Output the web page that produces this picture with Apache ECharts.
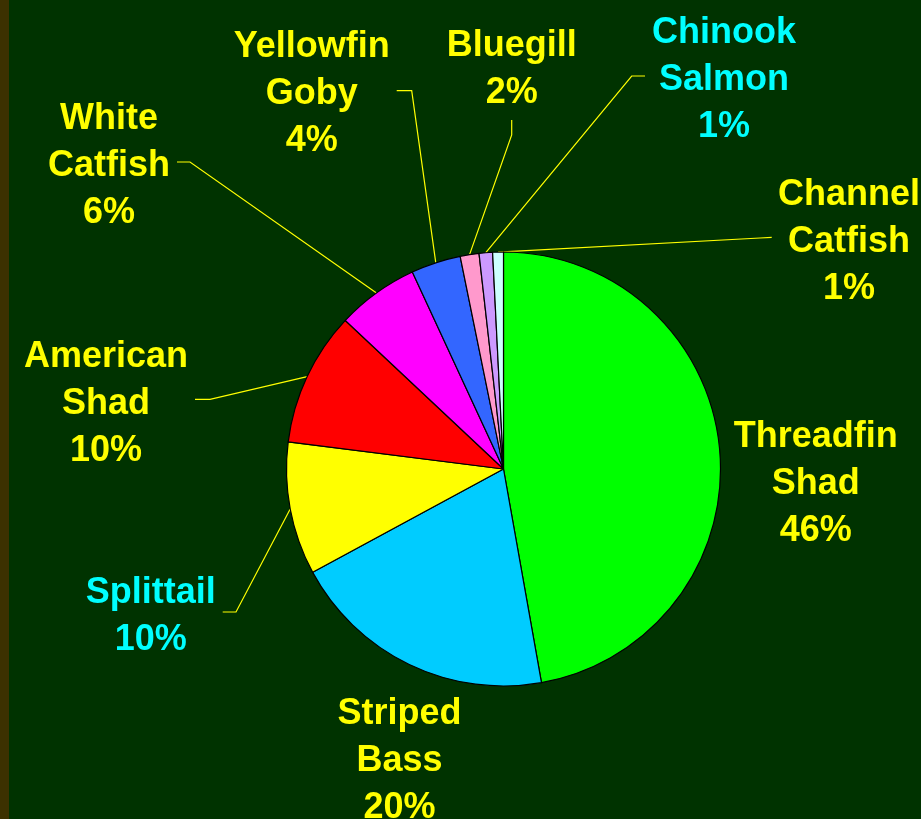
<!DOCTYPE html>
<html>
<head>
<meta charset="utf-8">
<style>
html,body{margin:0;padding:0;background:#003300;}
#chart{width:921px;height:819px;}
</style>
<script src="https://cdn.jsdelivr.net/npm/echarts@6/dist/echarts.min.js"></script>
</head>
<body>
<div id="chart"></div>
<script>
// ---- data ----
const categories = ['Threadfin\nShad', 'Striped\nBass', 'Splittail', 'American\nShad', 'White\nCatfish', 'Yellowfin\nGoby', 'Bluegill', 'Chinook\nSalmon', 'Channel\nCatfish'];
const values = [47.2, 19.9, 9.9, 10.0, 6.1, 3.7, 1.4, 1.0, 0.8];
const pctLabels = ['46%', '20%', '10%', '10%', '6%', '4%', '2%', '1%', '1%'];

// ---- styles / layout ----
const sliceColors = ['#00FF00', '#00CCFF', '#FFFF00', '#FF0000', '#FF00FF', '#3366FF', '#FF99CC', '#CC99FF', '#CCFFFF'];
const labelColors = ['#FFFF00', '#FFFF00', '#00FFFF', '#FFFF00', '#FFFF00', '#FFFF00', '#FFFF00', '#00FFFF', '#FFFF00'];
const labelShiftY = 3.5;
const labelPos = [
  {x: 815.8, y: 480.5},
  {x: 399.5, y: 758},
  {x: 150.8, y: 613.3, line: [[236, 612], [222.7, 612]]},
  {x: 106, y: 400.5, line: [[210, 399.3], [195, 399.3]]},
  {x: 109, y: 162.5, line: [[190, 162], [177, 162]]},
  {x: 311.7, y: 90.5, line: [[411.7, 90.7], [396.7, 90.7]]},
  {x: 511.7, y: 66.2, line: [[511.7, 135], [511.7, 120]]},
  {x: 724, y: 77, line: [[631.7, 76], [645, 76]]},
  {x: 849, y: 239, line: [[760, 238], [771.7, 237.4]]}
];

const chart = echarts.init(document.getElementById('chart'), null, {renderer: 'canvas'});
const seriesData = categories.map((c, i) => ({
  name: c,
  value: values[i],
  itemStyle: {color: sliceColors[i]},
  label: {color: labelColors[i]},
  labelLine: {show: !!labelPos[i].line}
}));

chart.setOption({
  backgroundColor: '#003300',
  animation: false,
  graphic: [{
    type: 'rect', left: 0, top: 0, z: -1,
    shape: {width: 9, height: 819},
    style: {fill: '#3c3100'}
  }],
  series: [{
    type: 'pie',
    center: [503.5, 469],
    radius: 217,
    startAngle: 90,
    clockwise: true,
    avoidLabelOverlap: false,
    minShowLabelAngle: 0,
    emphasis: {disabled: true},
    itemStyle: {borderColor: '#000000', borderWidth: 1.2},
    label: {
      show: true,
      position: 'outside',
      overflow: 'none',
      fontFamily: '"Liberation Sans", Arial, sans-serif',
      fontWeight: 'bold',
      fontSize: 36,
      lineHeight: 47,
      align: 'center',
      formatter: p => p.name + '\n' + pctLabels[p.dataIndex]
    },
    labelLine: {
      show: true,
      lineStyle: {color: '#FFFF00', width: 1.2}
    },
    labelLayout: function (p) {
      const L = labelPos[p.dataIndex];
      const res = {x: L.x, y: L.y + labelShiftY, align: 'center', verticalAlign: 'middle'};
      if (L.line && p.labelLinePoints) {
        res.labelLinePoints = [p.labelLinePoints[0], L.line[0], L.line[1]];
      }
      return res;
    },
    data: seriesData
  }]
});
</script>
</body>
</html>
